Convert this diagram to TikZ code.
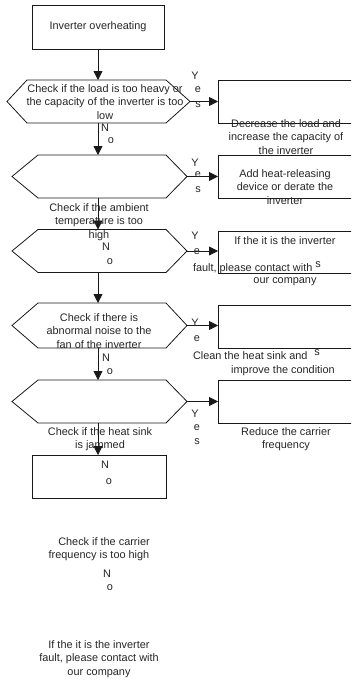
\documentclass[tikz,border=0pt]{standalone}
\usepackage{fontspec}
\setmainfont{Liberation Sans}
\usetikzlibrary{arrows.meta}
\begin{document}
\begin{tikzpicture}[x=1pt,y=-1pt,
  every node/.style={font=\fontsize{10.9}{13.5}\selectfont, text=black!85, inner sep=0pt, outer sep=0pt},
  ln/.style={line width=0.8pt, draw=black!90},
  arr/.style={ln, -{Triangle[length=9pt,width=9pt]}},
  boxnode/.style={ln, draw, rectangle},
  hexnode/.style={rectangle, draw=none, minimum height=43pt},
  lbl/.style={align=center},
]
\useasboundingbox (0,0) rectangle (351,680);
\clip (0,0) rectangle (351,680);

% start box
\node[boxnode, minimum width=132pt, minimum height=44pt] (start) at (98,27) {Inverter overheating};

% hexagons (decision nodes)
\node[hexnode, minimum width=183pt] (h1) at (98.5,101.5) {};
\node[hexnode, minimum width=175pt] (h2) at (99.5,176.5) {};
\node[hexnode, minimum width=175pt] (h3) at (99.5,251) {};
\node[hexnode, minimum width=175pt, minimum height=45pt] (h4) at (99.5,325.5) {};
\node[hexnode, minimum width=175pt] (h5) at (99.5,401.5) {};

\draw[ln] (h1.west) -- ([xshift=20pt]h1.north west) -- ([xshift=-24pt]h1.north east) -- (h1.east) -- ([xshift=-24pt]h1.south east) -- ([xshift=20pt]h1.south west) -- cycle;
\foreach \h in {h2,h3,h4,h5}{
  \draw[ln] (\h.west) -- ([xshift=26pt]\h.north west) -- ([xshift=-21pt]\h.north east) -- (\h.east) -- ([xshift=-21pt]\h.south east) -- ([xshift=26pt]\h.south west) -- cycle;
}

% right boxes
\node[boxnode, minimum width=142pt, minimum height=43pt] (b1) at (289,101.5) {};
\node[boxnode, minimum width=142pt, minimum height=43pt] (b2) at (289,176.5) {};
\node[boxnode, minimum width=142pt, minimum height=42pt] (b3) at (289,252) {};
\node[boxnode, minimum width=142pt, minimum height=43pt] (b4) at (289,326.5) {};
\node[boxnode, minimum width=142pt, minimum height=43pt] (b5) at (289,401.5) {};

% bottom box
\node[boxnode, minimum width=134pt, minimum height=43pt] (b6) at (99,476.5) {};

% vertical arrows
\draw[arr] (start.south) -- (start.south |- h1.north);
\draw[arr] (start.south |- h1.south) -- (start.south |- h2.north);
\draw[arr] (start.south |- h2.south) -- (start.south |- h3.north);
\draw[arr] (start.south |- h3.south) -- (start.south |- h4.north);
\draw[arr] (start.south |- h4.south) -- (start.south |- h5.north);
\draw[arr] (start.south |- h5.south) -- (start.south |- b6.north);

% horizontal arrows
\draw[arr] (h1.east) -- (h1.east -| b1.west);
\draw[arr] (h2.east) -- (h2.east -| b2.west);
\draw[arr] (h3.east) -- (h3.east -| b3.west);
\draw[arr] (h4.east) -- (h4.east -| b4.west);
\draw[arr] (h5.east) -- (h5.east -| b5.west);

% texts of decisions
\node[lbl] (t1) at (105,102) {Check if the load is too heavy or\\the capacity of the inverter is too\\low};
\node[lbl] (t2) at (99,222) {Check if the ambient\\temperature is too\\high};
\node[lbl] (t4) at (99,331) {Check if there is\\abnormal noise to the\\fan of the inverter};
\node[lbl] (t5) at (100,439) {Check if the heat sink\\is jammed};
\node[lbl] (t6a) at (104,542) {Check if the carrier};
\node[lbl] (t6b) at (99,556) {frequency is too high};
\node[lbl] (t7) at (99,659) {If the it is the inverter\\fault, please contact with\\our company};

% texts of actions
\node[lbl] (a1) at (286,137) {Decrease the load and\\increase the capacity of\\the inverter};
\node[lbl] (a2) at (285,187) {Add heat-releasing\\device or derate the\\inverter};
\node[lbl] (a3a) at (285,241) {If the it is the inverter};
\node[anchor=west] (a3b) at (193,269) {fault, please contact with};
\node[lbl] (a3c) at (285,282) {our company};
\node[anchor=west] (a4a) at (193,356) {Clean the heat sink and};
\node[lbl] (a4b) at (283,371) {improve the condition};
\node[lbl] (a5) at (286,439) {Reduce the carrier\\frequency};

% Yes labels
\node (y1a) at (195,76) {Y};  \node (y1b) at (198,90) {e};  \node (y1c) at (198,105) {s};
\node (y2a) at (195,163) {Y}; \node (y2b) at (198,175) {e}; \node (y2c) at (198,190) {s};
\node (y3a) at (195,236) {Y}; \node (y3b) at (197,252) {e}; \node (y3c) at (318,265) {s};
\node (y4a) at (195,323) {Y}; \node (y4b) at (197,339) {e}; \node (y4c) at (317,353) {s};
\node (y5a) at (195,414) {Y}; \node (y5b) at (197,428) {e}; \node (y5c) at (197,442) {s};

% No labels
\node (n1a) at (105,128) {N}; \node (n1b) at (111,141) {o};
\node (n2a) at (106,247) {N}; \node (n2b) at (110,262) {o};
\node (n4a) at (106,358) {N}; \node (n4b) at (110,372) {o};
\node (n5a) at (105,465) {N}; \node (n5b) at (109,482) {o};
\node (n6a) at (107,574) {N}; \node (n6b) at (110,588) {o};
\end{tikzpicture}
\end{document}
